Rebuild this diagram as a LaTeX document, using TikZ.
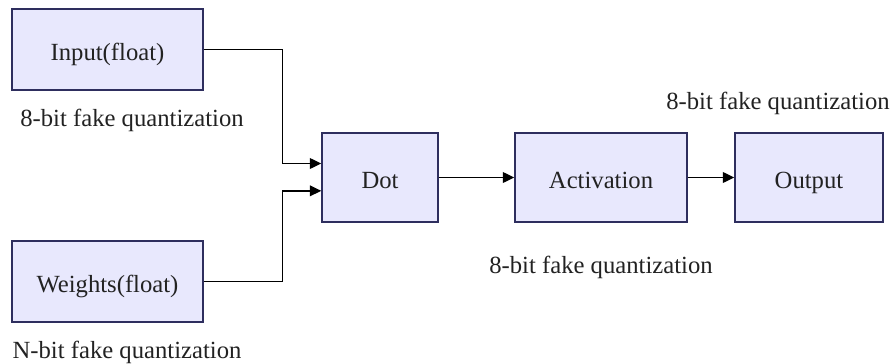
\documentclass[tikz,border=0pt]{standalone}
\usepackage{fontspec}
\setmainfont{Liberation Serif}
\usepackage{xcolor}
\usetikzlibrary{arrows.meta, positioning, calc}

\definecolor{boxfill}{HTML}{E8E8FD}
\definecolor{boxline}{HTML}{2E2E5E}
\definecolor{txt}{HTML}{222222}

\begin{document}
\begin{tikzpicture}[x=0.75pt, y=-0.75pt,
    font=\fontsize{18.5}{22}\selectfont, text=txt,
    block/.style={draw=boxline, fill=boxfill, line width=1.1pt, inner sep=0pt,
        text height=17pt, text depth=1pt, minimum height=60.75pt},
    note/.style={inner sep=0pt},
    flow/.style={draw=black, line width=1pt, -{Triangle[length=8.5pt, width=8pt]}},
    ]
\useasboundingbox (0,0) rectangle (893,364);

% blocks
\node[block, minimum width=143.25pt] (input) at (107.5,49.5) {Input(float)};
\node[block, minimum width=143.25pt] (weights) at (107.5,281.5) {Weights(float)};
\node[block, minimum width=87pt, minimum height=66.75pt] (dot) at (380,177.5) {Dot};
\node[block, minimum width=129pt, minimum height=66.75pt] (act) at (601,177.5) {Activation};
\node[block, minimum width=111pt, minimum height=66.75pt] (out) at (809,177.5) {Output};

% quantization notes
\node[note] (qin) at (132,120) {8-bit fake quantization};
\node[note] (qw) at (127,352) {N-bit fake quantization};
\node[note] (qact) at (601,267) {8-bit fake quantization};
\node[note] (qout) at (778,103) {8-bit fake quantization};

% connectors
\draw[flow] (input.east) -- ++(79,0) |- ([yshift=10.5pt]dot.west);
\draw[flow] (weights.east) -- ++(79,0) |- ([yshift=-10pt]dot.west);
\draw[flow] (dot) -- (act);
\draw[flow] (act) -- (out);
\end{tikzpicture}
\end{document}
